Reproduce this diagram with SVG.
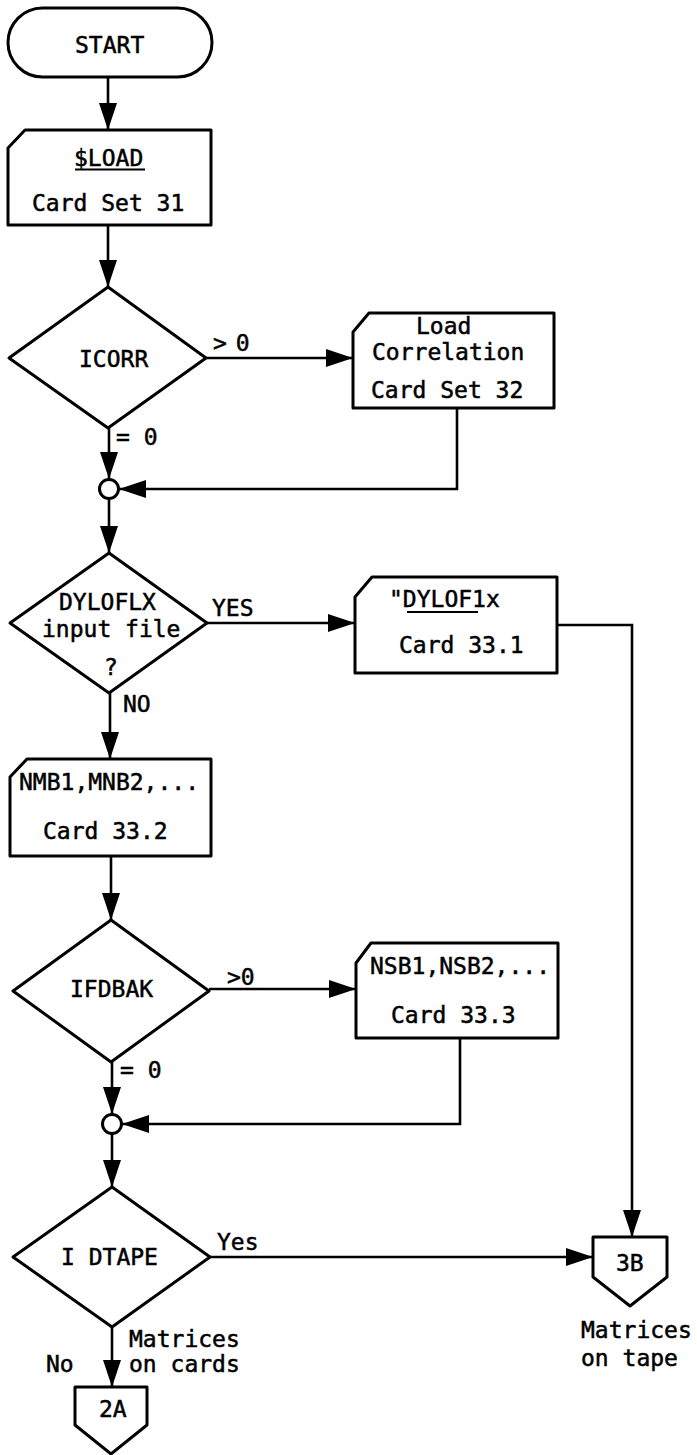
<svg xmlns="http://www.w3.org/2000/svg" width="697" height="1455" viewBox="0 0 697 1455">
<style>
  .shape { fill: #ffffff; stroke: #000000; stroke-width: 3; stroke-linejoin: round; }
  .conn { fill: none; stroke: #000000; stroke-width: 2.6; }
  .arrow { marker-end: url(#ah); }
  text { font-family: "DejaVu Sans Mono", "Liberation Mono", monospace; font-size: 23px; fill: #000000; stroke: #000000; stroke-width: 0.5; }
  .ul { stroke: #000000; stroke-width: 2; }
</style>
<defs>
  <marker id="ah" viewBox="0 0 27 18" refX="27" refY="9" markerWidth="27" markerHeight="18" markerUnits="userSpaceOnUse" orient="auto">
    <path d="M0,0 L27,9 L0,18 Z" fill="#000000"/>
  </marker>
</defs>
<rect x="0" y="0" width="697" height="1455" fill="#ffffff"/>

<g id="connectors">
  <path class="conn arrow" d="M108,77 L108,130"/>
  <path class="conn arrow" d="M108,225 L108,287"/>
  <path class="conn arrow" d="M206,358 L353,358"/>
  <path class="conn arrow" d="M109,428 L109,479"/>
  <path class="conn arrow" d="M457,408 L457,489 L119,489"/>
  <path class="conn arrow" d="M109,498 L109,553"/>
  <path class="conn arrow" d="M207,623 L355,623"/>
  <path class="conn arrow" d="M110,693 L110,759"/>
  <path class="conn arrow" d="M557,625 L632,625 L632,1237"/>
  <path class="conn arrow" d="M111,856 L111,920"/>
  <path class="conn arrow" d="M209,989 L356,989"/>
  <path class="conn arrow" d="M112,1062 L112,1114"/>
  <path class="conn arrow" d="M460,1038 L460,1124 L122,1124"/>
  <path class="conn arrow" d="M112,1134 L112,1187"/>
  <path class="conn arrow" d="M210,1257 L593,1257"/>
  <path class="conn arrow" d="M112,1327 L112,1387"/>
</g>

<g id="start">
  <rect class="shape" x="8" y="8" width="204" height="69" rx="34.5" ry="34.5"/>
  <text x="75" y="53">START</text>
</g>

<g id="load31">
  <path class="shape" d="M25,130 L211,130 L211,225 L8,225 L8,148 Z"/>
  <text x="74" y="166">$LOAD</text>
  <line class="ul" x1="75" y1="169.5" x2="145" y2="169.5"/>
  <text x="32" y="211">Card Set 31</text>
</g>

<g id="icorr">
  <path class="shape" d="M108,287 L206,358 L108,428 L9,358 Z"/>
  <text x="79" y="367">ICORR</text>
  <text x="213" y="351" letter-spacing="-2.5">&gt; 0</text>
  <text x="116" y="445">= 0</text>
</g>

<g id="loadcorr32">
  <path class="shape" d="M369,313 L554,313 L554,408 L353,408 L353,332 Z"/>
  <text x="416" y="334">Load</text>
  <text x="372" y="360">Correlation</text>
  <text x="371" y="398">Card Set 32</text>
</g>

<g id="junction1">
  <circle class="shape" cx="109" cy="489" r="9.5" stroke-width="2.6"/>
</g>

<g id="dyloflx">
  <path class="shape" d="M109,553 L207,623 L109,693 L10,623 Z"/>
  <text x="59" y="610">DYLOFLX</text>
  <text x="42" y="637">input file</text>
  <text x="104" y="675">?</text>
  <text x="212" y="616">YES</text>
  <text x="123" y="712">NO</text>
</g>

<g id="card331">
  <path class="shape" d="M372,577 L557,577 L557,673 L355,673 L355,597 Z"/>
  <text x="389" y="607">"DYLOF1x</text>
  <line class="ul" x1="407" y1="612" x2="478" y2="612"/>
  <text x="399" y="653">Card 33.1</text>
</g>

<g id="card332">
  <path class="shape" d="M27,759 L211,759 L211,856 L10,856 L10,777 Z"/>
  <text x="19" y="790">NMB1,MNB2,...</text>
  <text x="43" y="839">Card 33.2</text>
</g>

<g id="ifdbak">
  <path class="shape" d="M111,920 L209,991 L111,1062 L13,991 Z"/>
  <text x="70" y="997">IFDBAK</text>
  <text x="227" y="985">&gt;0</text>
  <text x="120" y="1078">= 0</text>
</g>

<g id="card333">
  <path class="shape" d="M371,943 L558,943 L558,1038 L356,1038 L356,963 Z"/>
  <text x="370" y="974">NSB1,NSB2,...</text>
  <text x="391" y="1023">Card 33.3</text>
</g>

<g id="junction2">
  <circle class="shape" cx="112" cy="1124" r="9.5" stroke-width="2.6"/>
</g>

<g id="idtape">
  <path class="shape" d="M112,1187 L210,1257 L112,1327 L13,1257 Z"/>
  <text x="61" y="1265">I DTAPE</text>
  <text x="217" y="1250">Yes</text>
  <text x="129" y="1347">Matrices</text>
  <text x="129" y="1372">on cards</text>
  <text x="46" y="1372">No</text>
</g>

<g id="conn2a">
  <path class="shape" d="M75,1387 L147,1387 L147,1425 L111,1454 L75,1425 Z"/>
  <text x="99" y="1417">2A</text>
</g>

<g id="conn3b">
  <path class="shape" d="M593,1237 L667,1237 L667,1277 L630,1306 L593,1277 Z"/>
  <text x="616" y="1271">3B</text>
  <text x="581" y="1338">Matrices</text>
  <text x="581" y="1366">on tape</text>
</g>
</svg>
